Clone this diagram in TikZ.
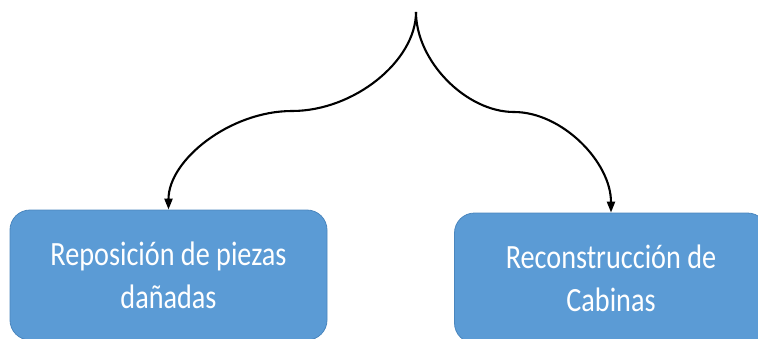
\documentclass[tikz,border=0pt]{standalone}
\usepackage{fontspec}
\setmainfont{Carlito}
\newfontfamily\boxfont[FakeStretch=0.83]{Carlito}
\usetikzlibrary{arrows.meta}
\definecolor{boxblue}{HTML}{5B9BD5}
\definecolor{boxedge}{HTML}{4A86BE}
\begin{document}
\begin{tikzpicture}[x=1pt,y=-1pt,
  bluebox/.style={draw=boxedge,line width=0.8pt,fill=boxblue,rounded corners=20pt,
    minimum width=#1,minimum height=130pt,align=center,text=white,
    font=\boxfont\fontsize{34}{43}\selectfont,inner sep=0pt},
  conn/.style={line width=2.1pt,-{Triangle[length=11pt,width=8pt]}}]
\clip (0,0) rectangle (758,338);
\useasboundingbox (0,0) rectangle (758,338);
\node[bluebox=317pt] (L) at (168.5,275) {Reposición de piezas\\dañadas};
\node[bluebox=313pt] (R) at (611,278) {Reconstrucción de\\Cabinas};
\coordinate (src) at (416,12);
\draw[conn] (src) .. controls (416,61) and (354,111) .. (292,111)
  .. controls (230,111) and (168.5,160) .. (L.north);
\draw[conn] (src) .. controls (416,61) and (466,112) .. (514,112)
  .. controls (562,112) and (611,162) .. (R.north);
\end{tikzpicture}
\end{document}
